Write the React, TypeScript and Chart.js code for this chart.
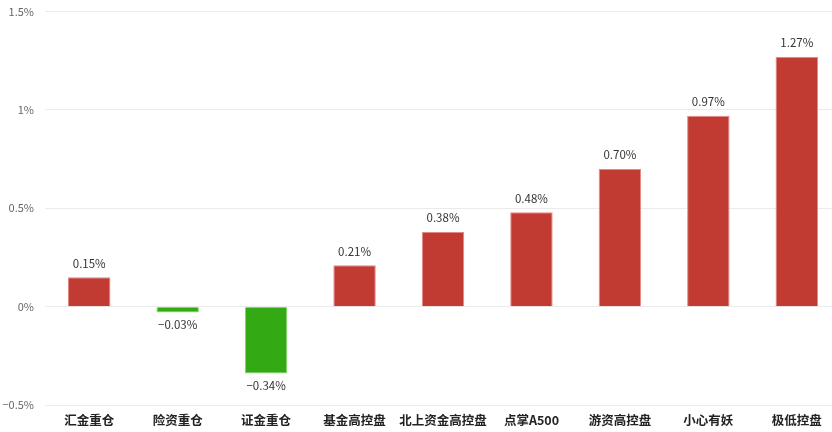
import { useEffect, useRef } from "react";
import { Chart, registerables, type ChartConfiguration, type Plugin } from "chart.js";

Chart.register(...registerables);

const CATEGORIES = ["汇金重仓", "险资重仓", "证金重仓", "基金高控盘", "北上资金高控盘", "点掌A500", "游资高控盘", "小心有妖", "极低控盘"];
const CHANGES = [0.15, -0.03, -0.34, 0.21, 0.38, 0.48, 0.7, 0.97, 1.27];
const Y_TICKS = [-0.5, 0, 0.5, 1, 1.5];

const RED = "#c23b33";
const RED_EDGE = "#e48a84";
const GREEN = "#33aa14";
const GREEN_EDGE = "#86d66a";
const FONT = "'Noto Sans CJK SC', 'Noto Sans', sans-serif";

const fmt = (v: number) => (v < 0 ? "\u2212" : "") + Math.abs(v).toString() + "%";
const fmt2 = (v: number) => (v < 0 ? "\u2212" : "") + Math.abs(v).toFixed(2) + "%";

// draws the value above positive bars and below negative ones
const valueLabels: Plugin<"bar"> = {
  id: "valueLabels",
  afterDatasetsDraw(chart) {
    const { ctx } = chart;
    const meta = chart.getDatasetMeta(0);
    ctx.save();
    ctx.font = `11.5px ${FONT}`;
    ctx.fillStyle = "#333";
    ctx.textAlign = "center";
    ctx.textBaseline = "middle";
    meta.data.forEach((bar, i) => {
      const v = CHANGES[i];
      const { x, y } = bar.getProps(["x", "y"], true);
      ctx.fillText(fmt2(v), x, v >= 0 ? y - 14 : y + 12);
    });
    ctx.restore();
  },
};

export default function App() {
  const ref = useRef<HTMLCanvasElement>(null);

  useEffect(() => {
    if (!ref.current) return;
    const config: ChartConfiguration<"bar"> = {
      type: "bar",
      data: {
        labels: CATEGORIES,
        datasets: [
          {
            data: CHANGES,
            backgroundColor: CHANGES.map((v) => (v >= 0 ? RED : GREEN)),
            borderColor: CHANGES.map((v) => (v >= 0 ? RED_EDGE : GREEN_EDGE)),
            borderWidth: 1,
            categoryPercentage: 1,
            barPercentage: 0.48,
          },
        ],
      },
      options: {
        responsive: true,
        maintainAspectRatio: false,
        animation: false,
        layout: { padding: { top: 6, right: 9, left: 0, bottom: 0 } },
        plugins: { legend: { display: false }, tooltip: { enabled: false } },
        scales: {
          x: {
            grid: { display: false, drawTicks: false },
            border: { display: false },
            ticks: {
              padding: 8,
              color: "#222",
              font: { family: FONT, size: 12.5, weight: "bold" },
              maxRotation: 0,
              autoSkip: false,
            },
            afterFit: (s) => {
              s.height = 27;
            },
          },
          y: {
            min: -0.5,
            max: 1.5,
            afterBuildTicks: (s) => {
              s.ticks = Y_TICKS.map((value) => ({ value }));
            },
            grid: { color: "#ebebeb", drawTicks: false },
            border: { display: false },
            ticks: {
              padding: 11,
              color: "#666",
              font: { family: FONT, size: 11 },
              callback: (v) => fmt(Number(v)),
            },
            afterFit: (s) => {
              s.width = 45;
            },
          },
        },
      },
      plugins: [valueLabels],
    };
    const chart = new Chart(ref.current, config);
    return () => chart.destroy();
  }, []);

  return (
    <div style={{ position: "fixed", left: 0, top: 0, width: 832, height: 432, overflow: "hidden", background: "#fff" }}>
      <div style={{ position: "absolute", left: 0, top: -6, width: 850, height: 438 }}>
        <canvas ref={ref} />
      </div>
    </div>
  );
}
